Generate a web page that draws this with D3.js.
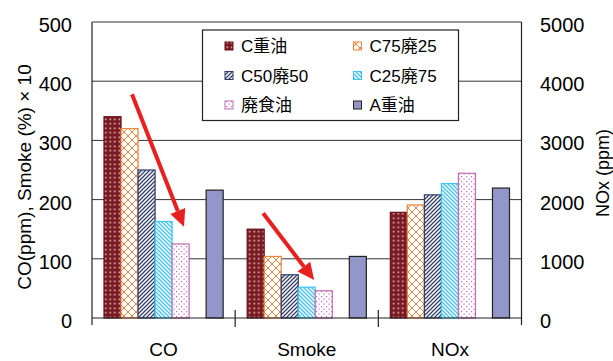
<!DOCTYPE html>
<html><head><meta charset="utf-8">
<script src="https://cdn.jsdelivr.net/npm/d3@7/dist/d3.min.js"></script>
<style>
html,body{margin:0;padding:0;background:#fff;}
text{font-family:"Liberation Sans","Noto Sans CJK JP",Arial,sans-serif;fill:#000;}
</style></head>
<body><svg id="c" width="613" height="361"></svg>
<script>
const categories = ["CO", "Smoke", "NOx"];
const seriesNames = ["C重油", "C75廃25", "C50廃50", "C25廃75", "廃食油", "A重油"];
// CO (ppm), Smoke (%)x10 on left axis; NOx (ppm) on right axis
const vC100 = [340, 150, 1785];
const vC75 = [320, 104, 1910];
const vC50 = [250, 73, 2080];
const vC25 = [163, 52, 2270];
const vWaste = [125, 46, 2445];
const vA = [216, 104, 2195];
const leftTicks = [0, 100, 200, 300, 400, 500];
const rightTicks = [0, 1000, 2000, 3000, 4000, 5000];
const axisSide = ["left", "left", "right"];
const slotIndex = [0, 1, 2, 3, 4, 6];
// annotation arrows: [category, start offset, start value, end offset, end value]
const arrows = [
  {cat: "CO", x1: 40, v1: 378, x2: 92, v2: 154},
  {cat: "Smoke", x1: 28, v1: 177, x2: 79, v2: 64}
];

const allValues = [vC100, vC75, vC50, vC25, vWaste, vA];
const svg = d3.select("#c");
const L = 92, R = 521.5, T = 22, B = 318;
const x0 = d3.scaleBand().domain(categories).range([L, R]);
const x1 = d3.scaleBand().domain(d3.range(7)).range([12, x0.bandwidth() - 12]);
const y = d3.scaleLinear().domain([0, 500]).range([B, T]);
const yR = d3.scaleLinear().domain([0, 5000]).range([B, T]);

const defs = svg.append("defs");
function pat(id, w, h, bg, draw) {
  const p = defs.append("pattern").attr("id", id).attr("patternUnits", "userSpaceOnUse")
    .attr("width", w).attr("height", h);
  p.append("rect").attr("width", w).attr("height", h).attr("fill", bg);
  draw(p);
}
pat("p0", 4.5, 4.5, "#7a1a22", p => {
  p.append("rect").attr("x", 1.5).attr("y", 1.5).attr("width", 1.5).attr("height", 1.5).attr("fill", "#f0d8d8");
});
pat("p1", 8, 8, "#fff", p => {
  p.append("path").attr("d", "M0,0L8,8M8,0L0,8").attr("stroke", "#f4843c").attr("stroke-width", 1);
});
pat("p2", 4, 4, "#fff", p => {
  p.append("path").attr("d", "M-1,5L5,-1M-1,1L1,-1M3,5L5,3").attr("stroke", "#34406e").attr("stroke-width", 1.3);
});
pat("p3", 4, 4, "#fff", p => {
  p.append("path").attr("d", "M-1,-1L5,5M3,-1L5,1M-1,3L1,5").attr("stroke", "#3ec4ee").attr("stroke-width", 1.3);
});
pat("p4", 5, 5, "#fff", p => {
  p.append("rect").attr("x", 1).attr("y", 1).attr("width", 1.2).attr("height", 1.2).attr("fill", "#c46ab4");
  p.append("rect").attr("x", 3.5).attr("y", 3.5).attr("width", 1.2).attr("height", 1.2).attr("fill", "#c46ab4");
});
const fills = ["url(#p0)", "url(#p1)", "url(#p2)", "url(#p3)", "url(#p4)", "#9396c8"];
const strokes = ["#6a1018", "#f4843c", "#2e3a68", "#3ec4ee", "#c46ab4", "#222"];

// gridlines
svg.append("g").selectAll("line").data(leftTicks.slice(1)).join("line")
  .attr("x1", L).attr("x2", R).attr("y1", d => y(d)).attr("y2", d => y(d))
  .attr("stroke", "#333").attr("stroke-width", 1);

// bars
const groups = svg.append("g").selectAll("g").data(seriesNames).join("g");
groups.each(function(name, si) {
  d3.select(this).selectAll("rect").data(categories).join("rect")
    .attr("x", c => x0(c) + x1(slotIndex[si]))
    .attr("width", x1.bandwidth())
    .attr("y", (c, ci) => (axisSide[ci] === "right" ? yR : y)(allValues[si][ci]))
    .attr("height", (c, ci) => B - (axisSide[ci] === "right" ? yR : y)(allValues[si][ci]))
    .attr("fill", fills[si]).attr("stroke", strokes[si]).attr("stroke-width", 1.2);
});

// axes
const ax = svg.append("g").attr("stroke", "#222").attr("stroke-width", 1.2);
ax.append("line").attr("x1", L).attr("x2", L).attr("y1", T).attr("y2", B + 7);
ax.append("line").attr("x1", R).attr("x2", R).attr("y1", T).attr("y2", B + 7);
ax.append("line").attr("x1", L).attr("x2", R).attr("y1", B).attr("y2", B);
ax.selectAll(".ct").data(categories.slice(1)).join("line")
  .attr("x1", c => x0(c)).attr("x2", c => x0(c)).attr("y1", B - 8).attr("y2", B + 9);

svg.append("g").selectAll("text").data(leftTicks).join("text")
  .attr("x", 72).attr("y", d => y(d) + 10).attr("text-anchor", "end")
  .attr("font-size", 20).text(d => d);
svg.append("g").selectAll("text").data(rightTicks).join("text")
  .attr("x", 540).attr("y", d => yR(d) + 10).attr("text-anchor", "start")
  .attr("font-size", 20).text(d => d);
svg.append("g").selectAll("text").data(categories).join("text")
  .attr("x", c => x0(c) + x0.bandwidth() / 2).attr("y", 356).attr("text-anchor", "middle")
  .attr("font-size", 19).text(c => c);

svg.append("text").attr("transform", "translate(31,177) rotate(-90)").attr("text-anchor", "middle")
  .attr("font-size", 19).text("CO(ppm), Smoke (%) × 10");
svg.append("text").attr("transform", "translate(609,173) rotate(-90)").attr("text-anchor", "middle")
  .attr("font-size", 18).text("NOx (ppm)");

// arrows
const arrowG = svg.append("g");
arrows.forEach(a => {
  const sx = x0(a.cat) + a.x1, sy = y(a.v1), ex = x0(a.cat) + a.x2, ey = y(a.v2);
  const ang = Math.atan2(ey - sy, ex - sx);
  const hl = 17, hw = 8;
  const bx = ex - hl * Math.cos(ang), by = ey - hl * Math.sin(ang);
  arrowG.append("line").attr("x1", sx).attr("y1", sy).attr("x2", bx).attr("y2", by)
    .attr("stroke", "#e82020").attr("stroke-width", 4);
  const px = -Math.sin(ang) * hw, py = Math.cos(ang) * hw;
  arrowG.append("path").attr("d", `M${ex},${ey}L${bx + px},${by + py}L${bx - px},${by - py}Z`)
    .attr("fill", "#e82020");
});

// legend
const lg = svg.append("g");
lg.append("rect").attr("x", 202.5).attr("y", 30).attr("width", 256).attr("height", 90.5)
  .attr("fill", "#fff").attr("stroke", "#222").attr("stroke-width", 1.2);
seriesNames.forEach((n, i) => {
  const col = i % 2, row = Math.floor(i / 2);
  const sx = col ? 353.5 : 225, cy = 46 + row * 29.5;
  lg.append("rect").attr("x", sx).attr("y", cy - 4).attr("width", 8).attr("height", 8)
    .attr("fill", fills[i]).attr("stroke", strokes[i]).attr("stroke-width", 1);
  lg.append("text").attr("x", sx + 16).attr("y", cy + 6).attr("font-size", 17).text(n);
});
</script></body></html>
